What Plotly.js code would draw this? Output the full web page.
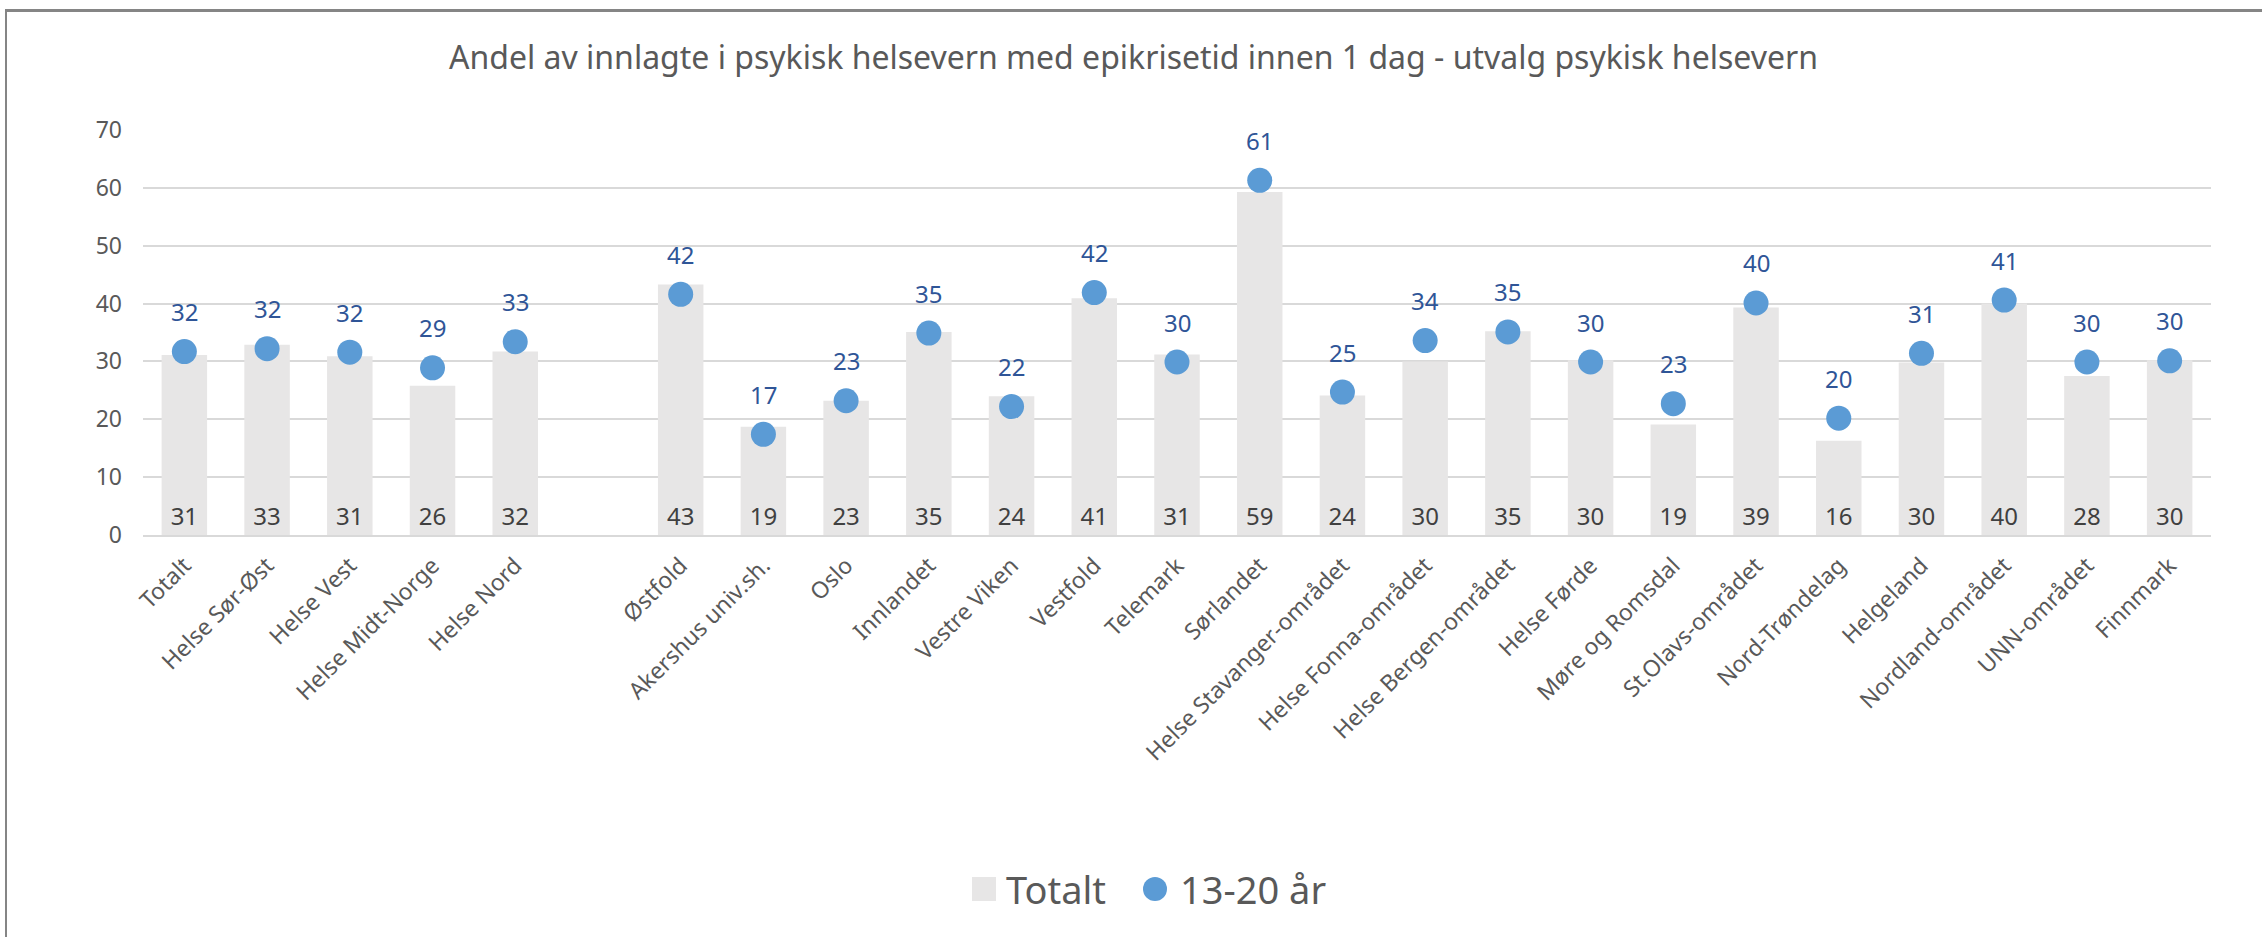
<!DOCTYPE html>
<html>
<head>
<meta charset="utf-8">
<script src="https://cdn.plot.ly/plotly-3.0.1.min.js"></script>
<style>
  html, body { margin: 0; padding: 0; background: #fff; overflow: hidden; }
  #chart { width: 2267px; height: 937px; }
  #frame { position: absolute; left: 5px; top: 9px; width: 2255px; height: 925px;
           border-left: 2px solid #858585; border-top: 3px solid #858585; pointer-events: none; }
</style>
</head>
<body>
<div id="chart"></div>
<div id="frame"></div>
<script>
const categories = [
  "Totalt", "Helse Sør-Øst", "Helse Vest", "Helse Midt-Norge", "Helse Nord", " ",
  "Østfold", "Akershus univ.sh.", "Oslo", "Innlandet", "Vestre Viken", "Vestfold",
  "Telemark", "Sørlandet", "Helse Stavanger-området", "Helse Fonna-området",
  "Helse Bergen-området", "Helse Førde", "Møre og Romsdal", "St.Olavs-området",
  "Nord-Trøndelag", "Helgeland", "Nordland-området", "UNN-området", "Finnmark"
];
const totalt = [
  31.1, 32.9, 30.9, 25.8, 31.7, null,
  43.3, 18.7, 23.2, 35.1, 24.0, 40.9,
  31.2, 59.3, 24.1, 30.0,
  35.2, 30.2, 19.1, 39.3,
  16.3, 29.8, 40.0, 27.5, 30.2
];
const ungdom = [
  31.7, 32.2, 31.6, 28.9, 33.4, null,
  41.6, 17.4, 23.2, 34.9, 22.2, 41.9,
  29.9, 61.3, 24.7, 33.6,
  35.1, 29.9, 22.7, 40.1,
  20.2, 31.4, 40.6, 29.9, 30.1
];
const seriesNames = ["Totalt", "13-20 år"];
const seriesColors = ["#e7e6e6", "#5b9bd5"];
const titleText = "Andel av innlagte i psykisk helsevern med epikrisetid innen 1 dag - utvalg psykisk helsevern";

const FONT = "Noto Sans, Open Sans, sans-serif";

const barTrace = {
  type: "bar",
  name: seriesNames[0],
  x: categories,
  y: totalt,
  marker: { color: seriesColors[0] },
  text: totalt.map(v => v === null ? "" : String(Math.round(v))),
  texttemplate: "%{text}",
  textposition: "inside",
  insidetextanchor: "start",
  textangle: 0,
  constraintext: "none",
  insidetextfont: { family: FONT, size: 24, color: "#404040" },
  showlegend: false,
  hoverinfo: "x+y"
};

const dotTrace = {
  type: "scatter",
  mode: "markers",
  name: seriesNames[1],
  x: categories,
  y: ungdom,
  marker: { color: seriesColors[1], size: 25, line: { width: 0 } },
  showlegend: false,
  hoverinfo: "x+y"
};

const annotations = [];
categories.forEach((c, i) => {
  if (ungdom[i] === null) return;
  annotations.push({
    x: c, y: ungdom[i], xref: "x", yref: "y",
    text: String(Math.round(ungdom[i])),
    showarrow: false, yshift: 40,
    font: { family: FONT, size: 24, color: "#2f5597" }
  });
});

// Custom legend (plot area: left 143, right 2211, top 130, bottom 535 px)
const PL = 143, PW = 2068, PB = 535, PH = 405;
const px = v => (v - PL) / PW;
const py = v => (PB - v) / PH;
annotations.push({
  xref: "paper", yref: "paper", x: px(1004), y: py(889), xanchor: "left", yanchor: "middle",
  text: seriesNames[0], showarrow: false,
  font: { family: FONT, size: 38, color: "#595959" }
});
annotations.push({
  xref: "paper", yref: "paper", x: px(1178), y: py(889), xanchor: "left", yanchor: "middle",
  text: seriesNames[1], showarrow: false,
  font: { family: FONT, size: 38, color: "#595959" }
});
const shapes = [
  { type: "rect", xref: "paper", yref: "paper", x0: px(972), x1: px(996), y0: py(901), y1: py(877),
    fillcolor: seriesColors[0], line: { width: 0 } },
  { type: "circle", xref: "paper", yref: "paper", x0: px(1143), x1: px(1167), y0: py(901), y1: py(877),
    fillcolor: seriesColors[1], line: { width: 0 } }
];

const layout = {
  width: 2267, height: 937,
  margin: { l: 143, r: 56, t: 130, b: 402 },
  paper_bgcolor: "#ffffff",
  plot_bgcolor: "#ffffff",
  font: { family: FONT, color: "#595959" },
  title: {
    text: titleText,
    font: { family: FONT, size: 32, color: "#595959" },
    x: 0.5, xanchor: "center", xref: "container",
    y: 1 - 58 / 937, yanchor: "middle", yref: "container"
  },
  bargap: 0.45,
  showlegend: false,
  xaxis: {
    type: "category",
    categoryorder: "array",
    categoryarray: categories,
    range: [-0.5, categories.length - 0.5],
    autorange: false,
    tickangle: -45,
    tickfont: { family: FONT, size: 23, color: "#595959" },
    ticklabelstandoff: 6,
    showgrid: false,
    showline: true, linecolor: "#d9d9d9", linewidth: 2,
    ticks: "", fixedrange: true
  },
  yaxis: {
    range: [0, 70],
    autorange: false,
    dtick: 10,
    tickfont: { family: FONT, size: 23, color: "#595959" },
    showgrid: true, gridcolor: "#d9d9d9", gridwidth: 2,
    zeroline: false, showline: false, ticks: "",
    ticklabelstandoff: 20,
    fixedrange: true
  },
  annotations: annotations,
  shapes: shapes
};

Plotly.newPlot("chart", [barTrace, dotTrace], layout, { displayModeBar: false, staticPlot: true });
</script>
</body>
</html>
